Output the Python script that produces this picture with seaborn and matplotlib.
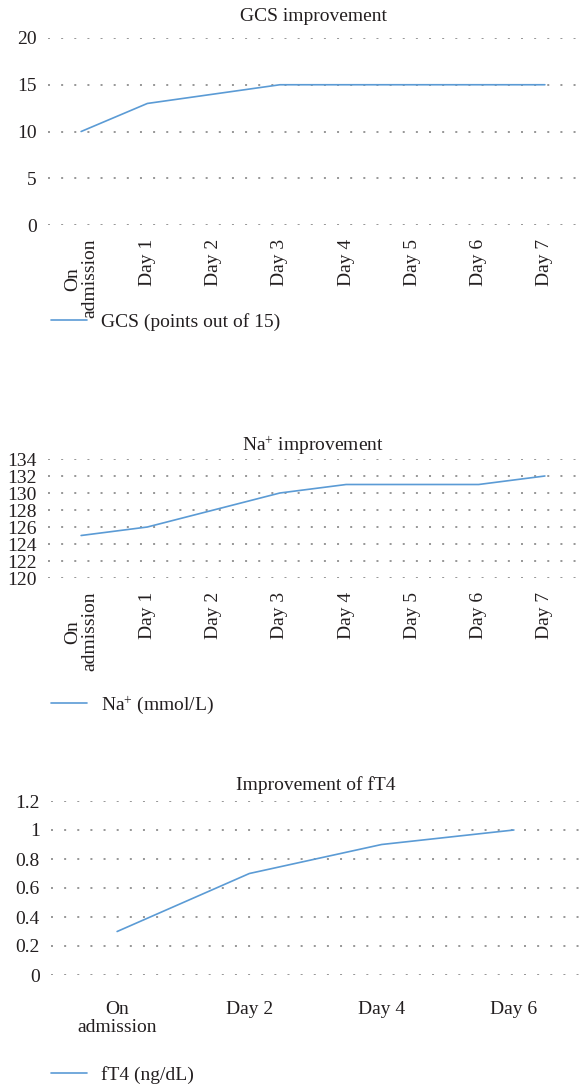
import numpy as np
import pandas as pd
import matplotlib
matplotlib.use('Agg')
import matplotlib.pyplot as plt
import seaborn as sns

sns.set_style('white')
plt.rcParams['font.family'] = ['Liberation Serif', 'DejaVu Serif']
plt.rcParams['mathtext.fontset'] = 'custom'
plt.rcParams['mathtext.rm'] = 'Liberation Serif'
plt.rcParams['mathtext.it'] = 'Liberation Serif:italic'

# data
days_full = ['On\nadmission', 'Day 1', 'Day 2', 'Day 3', 'Day 4', 'Day 5', 'Day 6', 'Day 7']
gcs = [10, 13, 14, 15, 15, 15, 15, 15]
sodium = [125, 126, 128, 130, 131, 131, 131, 132]
days_ft4 = ['On\nadmission', 'Day 2', 'Day 4', 'Day 6']
ft4 = [0.3, 0.7, 0.9, 1.0]

line_color = '#5B9BD5'
text_color = '#231f20'
fs = 14

W, H = 581, 1087
fig = plt.figure(figsize=(W / 100, H / 100), dpi=100)


def add_panel(left, top, right, bottom):
    return fig.add_axes([left / W, 1 - bottom / H, (right - left) / W, (bottom - top) / H])


def style(ax, cats, vals, title, label, yticks, ylabels, rot, legend_y, title_pad, xpad):
    df = pd.DataFrame({'x': cats, 'y': vals})
    sns.lineplot(data=df, x='x', y='y', ax=ax, color=line_color, linewidth=1.2, label=label)
    ax.set_xlim(-0.5, len(cats) - 0.5)
    ax.set_ylim(yticks[0], yticks[-1])
    ax.set_yticks(yticks)
    ax.set_yticklabels(ylabels, fontsize=fs, color=text_color)
    ax.set_xticks(range(len(cats)))
    ax.set_xticklabels(cats, fontsize=fs, color=text_color, rotation=rot,
                       linespacing=1.05)
    ax.set_xlabel('')
    ax.set_ylabel('')
    for s in ax.spines.values():
        s.set_visible(False)
    ax.tick_params(axis='both', length=0)
    ax.tick_params(axis='x', pad=xpad)
    ax.tick_params(axis='y', pad=8)
    ax.grid(axis='y', color='#7a7a7a', linestyle=(0, (1.3, 7.3)), linewidth=1.1)
    ax.grid(axis='x', visible=False)
    ax.set_axisbelow(True)
    ax.set_title(title, fontsize=fs, color=text_color, pad=title_pad)
    ax.legend(loc='center left', bbox_to_anchor=(33 / W, 1 - legend_y / H),
              bbox_transform=fig.transFigure, frameon=False, fontsize=fs,
              handlelength=1.9, handletextpad=0.7, labelcolor=text_color)


ax1 = add_panel(48, 38, 578, 225)
style(ax1, days_full, gcs, 'GCS improvement', 'GCS (points out of 15)',
      [0, 5, 10, 15, 20], ['0', '5', '10', '15', '20'], 90, 322, 12, 10)

ax2 = add_panel(48, 459, 578, 578)
na_ticks = list(range(120, 135, 2))
style(ax2, days_full, sodium, 'Na$^{+}$ improvement', 'Na$^{+}$ (mmol/L)',
      na_ticks, [str(t) for t in na_ticks], 90, 705, 6, 10)

ax3 = add_panel(51, 801, 580, 975)
ft4_ticks = [0, 0.2, 0.4, 0.6, 0.8, 1.0, 1.2]
style(ax3, days_ft4, ft4, 'Improvement of fT4', 'fT4 (ng/dL)',
      ft4_ticks, ['0', '0.2', '0.4', '0.6', '0.8', '1', '1.2'], 0, 1075, 8, 19)

fig.savefig('out.png', dpi=100)
